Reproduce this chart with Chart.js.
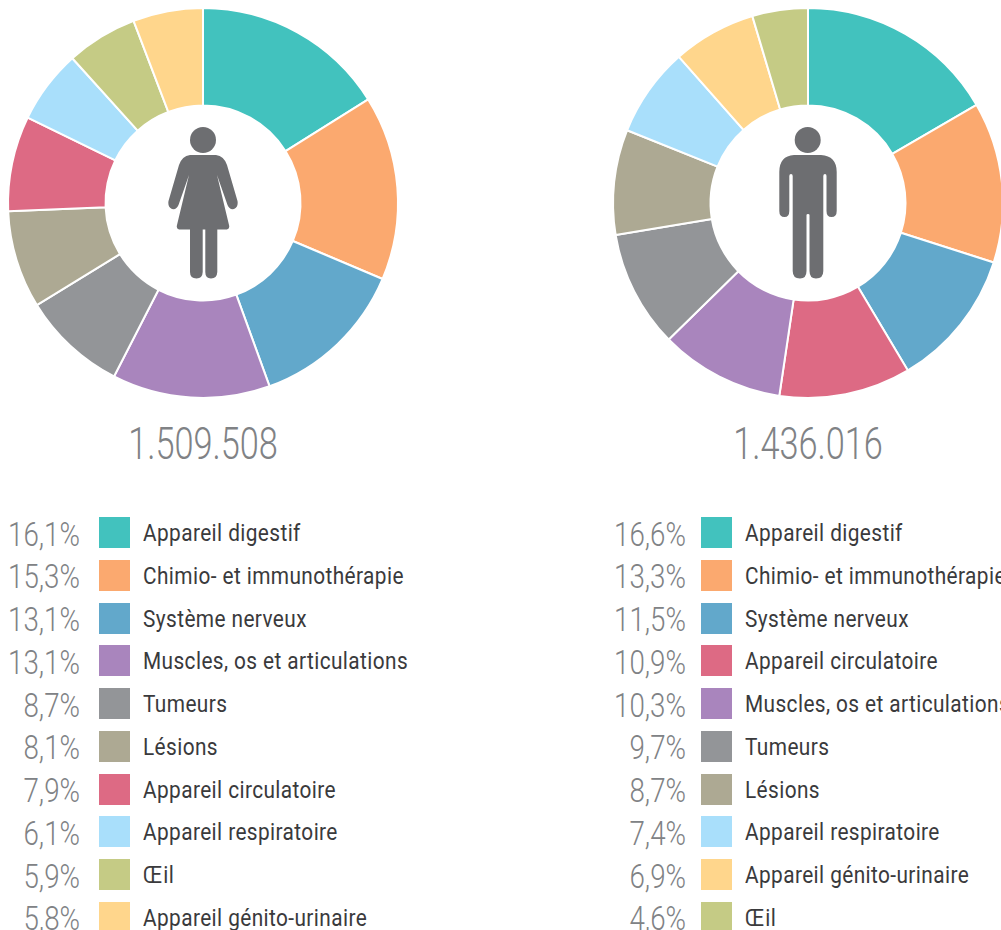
<!DOCTYPE html>
<html lang="fr"><head><meta charset="utf-8">
<script src="https://cdn.jsdelivr.net/npm/chart.js@4"></script>
<style>
html,body{margin:0;padding:0;background:#fff;overflow:hidden}
#page{position:relative;width:1001px;height:930px;overflow:hidden}
canvas{position:absolute;top:0}
svg{position:absolute;left:0;top:0}
.total,.pct,.lab{position:absolute;white-space:nowrap;line-height:1}
.total{font:300 44px Roboto,sans-serif;color:#808285;width:300px;text-align:center;transform:scaleX(.78);top:418px}
.pct{font:300 33px Roboto,sans-serif;color:#808285;text-align:right;width:90px;transform-origin:100% 50%;transform:scaleX(.84)}
.lab{font:400 23px Roboto,sans-serif;color:#3a3a3c;letter-spacing:.45px;transform-origin:0 50%;transform:scaleX(.905)}
.sw{position:absolute;width:31px;height:31px}
</style></head><body><div id="page"></div>
<script>
const femaleLabels=["Appareil digestif","Chimio- et immunothérapie","Système nerveux","Muscles, os et articulations","Tumeurs","Lésions","Appareil circulatoire","Appareil respiratoire","Œil","Appareil génito-urinaire"];
const femaleValues=[16.1,15.3,13.1,13.1,8.7,8.1,7.9,6.1,5.9,5.8];
const femaleColors=["#42C2BE","#FBA96F","#62A8CB","#A985BD","#939598","#ADA993","#DD6A84","#A9DFFB","#C5CB85","#FFD68C"];
const maleLabels=["Appareil digestif","Chimio- et immunothérapie","Système nerveux","Appareil circulatoire","Muscles, os et articulations","Tumeurs","Lésions","Appareil respiratoire","Appareil génito-urinaire","Œil"];
const maleValues=[16.6,13.3,11.5,10.9,10.3,9.7,8.7,7.4,6.9,4.6];
const maleColors=["#42C2BE","#FBA96F","#62A8CB","#DD6A84","#A985BD","#939598","#ADA993","#A9DFFB","#FFD68C","#C5CB85"];
const femaleTotal="1.509.508";
const maleTotal="1.436.016";
const page=document.getElementById('page');
function el(cls,txt,css){const d=document.createElement('div');d.className=cls;if(txt)d.textContent=txt;Object.assign(d.style,css);page.appendChild(d);return d;}
function donut(left,labels,values,colors){
  const c=document.createElement('canvas');c.width=406;c.height=406;c.style.left=left+'px';c.style.width='406px';c.style.height='406px';page.appendChild(c);
  new Chart(c,{type:'doughnut',data:{labels,datasets:[{data:values,backgroundColor:colors,borderColor:'#fff',borderWidth:2}]},
    options:{responsive:false,animation:false,cutout:'50%',layout:{padding:7},plugins:{legend:{display:false},tooltip:{enabled:false}}}});
}
function fmt(v){return v.toFixed(1).replace('.',',')+'%';}
function legend(labels,values,colors,pctRight,swX,labX){
  labels.forEach((l,i)=>{
    const y=517+i*42.75;
    el('pct',fmt(values[i]),{left:(pctRight-90)+'px',top:(y-2.5)+'px'});
    el('sw','',{left:swX+'px',top:Math.round(y)+'px',background:colors[i]});
    el('lab',l,{left:labX+'px',top:(y+3)+'px'});
  });
}
donut(0,femaleLabels,femaleValues,femaleColors);
donut(605,maleLabels,maleValues,maleColors);
el('total',femaleTotal,{left:'53px'});
el('total',maleTotal,{left:'658px'});
legend(femaleLabels,femaleValues,femaleColors,80,99,143);
legend(maleLabels,maleValues,maleColors,686,701,745);
page.insertAdjacentHTML('beforeend',`<svg width="1001" height="930" fill="#6D6E71">
<circle cx="203" cy="140" r="13"/>
<path d="M190 155 H216 Q224 156 227 165 L237.5 201 Q238.5 207 234 209 Q229.500 210 227.500 205 L217 175 L229 225 Q230 229 227 229.500 H217.300 V272 Q217 278.500 211 278.500 Q205.300 278.500 205.300 272 V229.500 H202.700 V272 Q202.500 278.500 196.500 278.500 Q190 278.500 190 272 V229.500 H179 Q176 229 177 225 L189 175 L178.500 205 Q176.500 210 172 209 Q167.500 207 168.500 201 L179 165 Q182 156 190 155 Z"/>
<circle cx="807.700" cy="140" r="13"/>
<path d="M794 155 H821 Q836.700 156 836.700 172 V211 Q836.700 217 831.500 217 Q826.500 217 826.500 211 V176 Q826.500 174 825 174 Q823.300 174 823.300 176 V271 Q823.300 278.500 816 278.500 Q809.500 278.500 809.500 271 V215 Q809.500 214 808 214 Q806.500 214 806.500 215 V271 Q806.500 278.500 800 278.500 Q792.700 278.500 792.700 271 V176 Q792.700 174 791 174 Q789.300 174 789.300 176 V211 Q789.300 217 784.500 217 Q779.300 217 779.300 211 V172 Q779.300 156 794 155 Z"/>
</svg>`);
</script></body></html>
